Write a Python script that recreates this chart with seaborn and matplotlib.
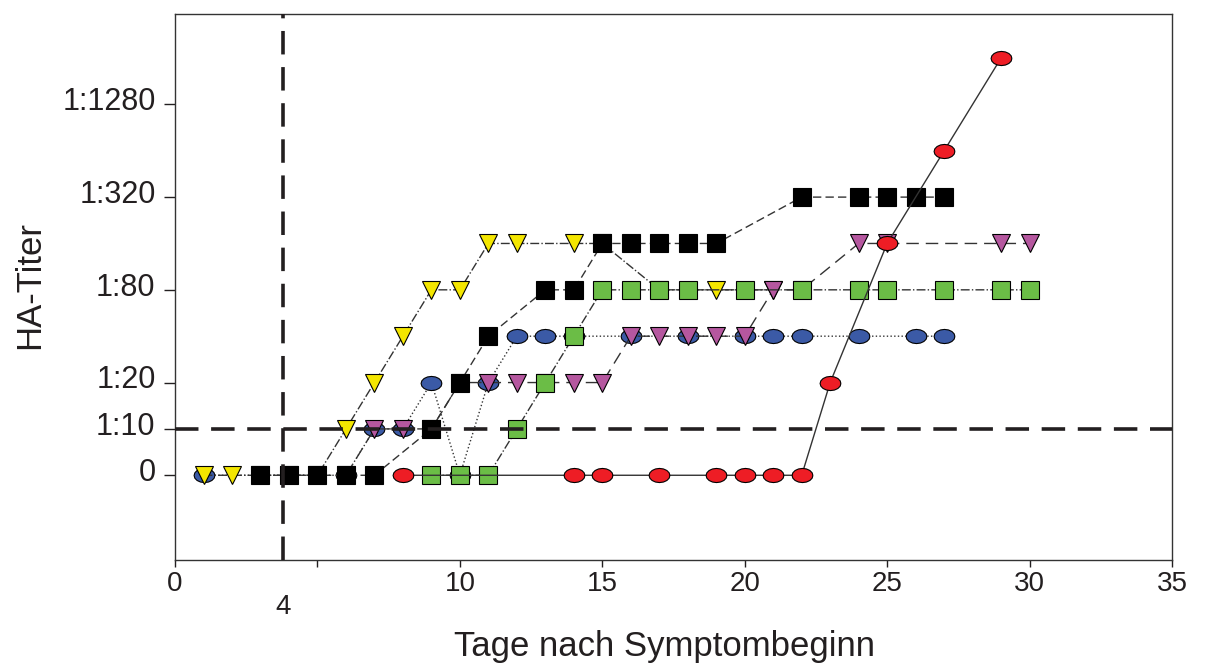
import seaborn as sns
import matplotlib.pyplot as plt
import matplotlib.transforms as mtransforms
import numpy as np
import pandas as pd

# titer levels: 0 -> "0", 1 -> 1:10, 2 -> 1:20, 3 -> 1:40, 4 -> 1:80, ...
tick_levels = [0, 1, 2, 4, 6, 8]
tick_labels = ["0", "1:10", "1:20", "1:80", "1:320", "1:1280"]

yellow_days = [1, 2, 3, 4, 5, 6, 7, 8, 9, 10, 11, 12, 14, 15, 17, 19, 21]
yellow_lvl = [0, 0, 0, 0, 0, 1, 2, 3, 4, 4, 5, 5, 5, 5, 4, 4, 4]

blue_days = [1, 6, 7, 8, 9, 10, 11, 12, 13, 14, 16, 18, 20, 21, 22, 24, 26, 27]
blue_lvl = [0, 0, 1, 1, 2, 0, 2, 3, 3, 3, 3, 3, 3, 3, 3, 3, 3, 3]

magenta_days = [6, 7, 8, 9, 10, 11, 12, 13, 14, 15, 16, 17, 18, 19, 20, 21, 22, 24, 25, 29, 30]
magenta_lvl = [0, 1, 1, 1, 2, 2, 2, 2, 2, 2, 3, 3, 3, 3, 3, 4, 4, 5, 5, 5, 5]

black_days = [3, 4, 5, 6, 7, 9, 10, 11, 13, 14, 15, 16, 17, 18, 19, 22, 24, 25, 26, 27]
black_lvl = [0, 0, 0, 0, 0, 1, 2, 3, 4, 4, 5, 5, 5, 5, 5, 6, 6, 6, 6, 6]

green_days = [9, 10, 11, 12, 13, 14, 15, 16, 17, 18, 20, 22, 24, 25, 27, 29, 30]
green_lvl = [0, 0, 0, 1, 2, 3, 4, 4, 4, 4, 4, 4, 4, 4, 4, 4, 4]

red_days = [8, 14, 15, 17, 19, 20, 21, 22, 23, 25, 27, 29]
red_lvl = [0, 0, 0, 0, 0, 0, 0, 0, 2, 5, 7, 9]

sns.set_style("white")
plt.rcParams["font.family"] = ["Liberation Sans", "DejaVu Sans"]
text_col = "#231f20"

fig = plt.figure(figsize=(12.08, 6.66), dpi=100)
ax = fig.add_axes([0.1449, 0.159, 0.8253, 0.820])

t = np.linspace(0, 2 * np.pi, 17)
ellipse = list(zip(np.cos(t), 0.68 * np.sin(t)))

series = [
    (blue_days, blue_lvl, "#3b5aa6", ellipse, 15, ":"),
    (yellow_days, yellow_lvl, "#f4e600", "v", 13.5, "-."),
    (magenta_days, magenta_lvl, "#b5579f", "v", 13.5, (0, (9, 5))),
    (black_days, black_lvl, "black", "s", 12.5, (0, (6, 3))),
    (green_days, green_lvl, "#6bbd46", "s", 12.5, "-."),
    (red_days, red_lvl, "#ee1d25", ellipse, 15, "-"),
]
for z, (d, lv, col, mk, ms, ls) in enumerate(series):
    df = pd.DataFrame({"day": d, "level": lv})
    sns.lineplot(data=df, x="day", y="level", ax=ax, color="#333333",
                 linestyle=ls, linewidth=1.0, marker=mk, markersize=ms,
                 markerfacecolor=col, markeredgecolor="black",
                 markeredgewidth=0.8, estimator=None, errorbar=None,
                 zorder=3 + z)

# reference lines: titer 1:10 and day 4
ax.axhline(1, color="#231f20", lw=2.6, dashes=(6.5, 3.5), zorder=20)
ax.axvline(3.8, color="#231f20", lw=2.6, dashes=(6.5, 3.5), zorder=20)

ax.set_xlim(0, 35)
ax.set_ylim(-1.83, 9.95)

ax.set_xticks([0, 5, 10, 15, 20, 25, 30, 35])
ax.set_xticklabels(["0", "", "10", "15", "20", "25", "30", "35"])
ax.set_yticks(tick_levels)
ax.set_yticklabels(tick_labels)
ax.yaxis.get_major_ticks()[1].tick1line.set_visible(False)

ax.tick_params(axis="x", direction="out", length=5, width=1, pad=3,
               labelsize=20, colors=text_col, bottom=True)
ax.tick_params(axis="y", direction="out", length=8, width=1, pad=6,
               labelsize=22, colors=text_col, left=True)
shift = mtransforms.ScaledTranslation(0, 4 / 72, fig.dpi_scale_trans)
for lab in ax.get_yticklabels():
    lab.set_transform(lab.get_transform() + shift)

ax.text(3.8, -0.085, "4", transform=ax.get_xaxis_transform(), ha="center",
        va="center", fontsize=20, color=text_col, clip_on=False)

for sp in ax.spines.values():
    sp.set_visible(True)
    sp.set_color("#333333")
    sp.set_linewidth(1.0)

ax.set_xlabel("Tage nach Symptombeginn", fontsize=25, color=text_col)
ax.set_ylabel("HA-Titer", fontsize=25, color=text_col)
ax.xaxis.set_label_coords(0.491, -0.128)
ax.yaxis.set_label_coords(-0.129, 0.504)

fig.savefig("out.png", dpi=100)
